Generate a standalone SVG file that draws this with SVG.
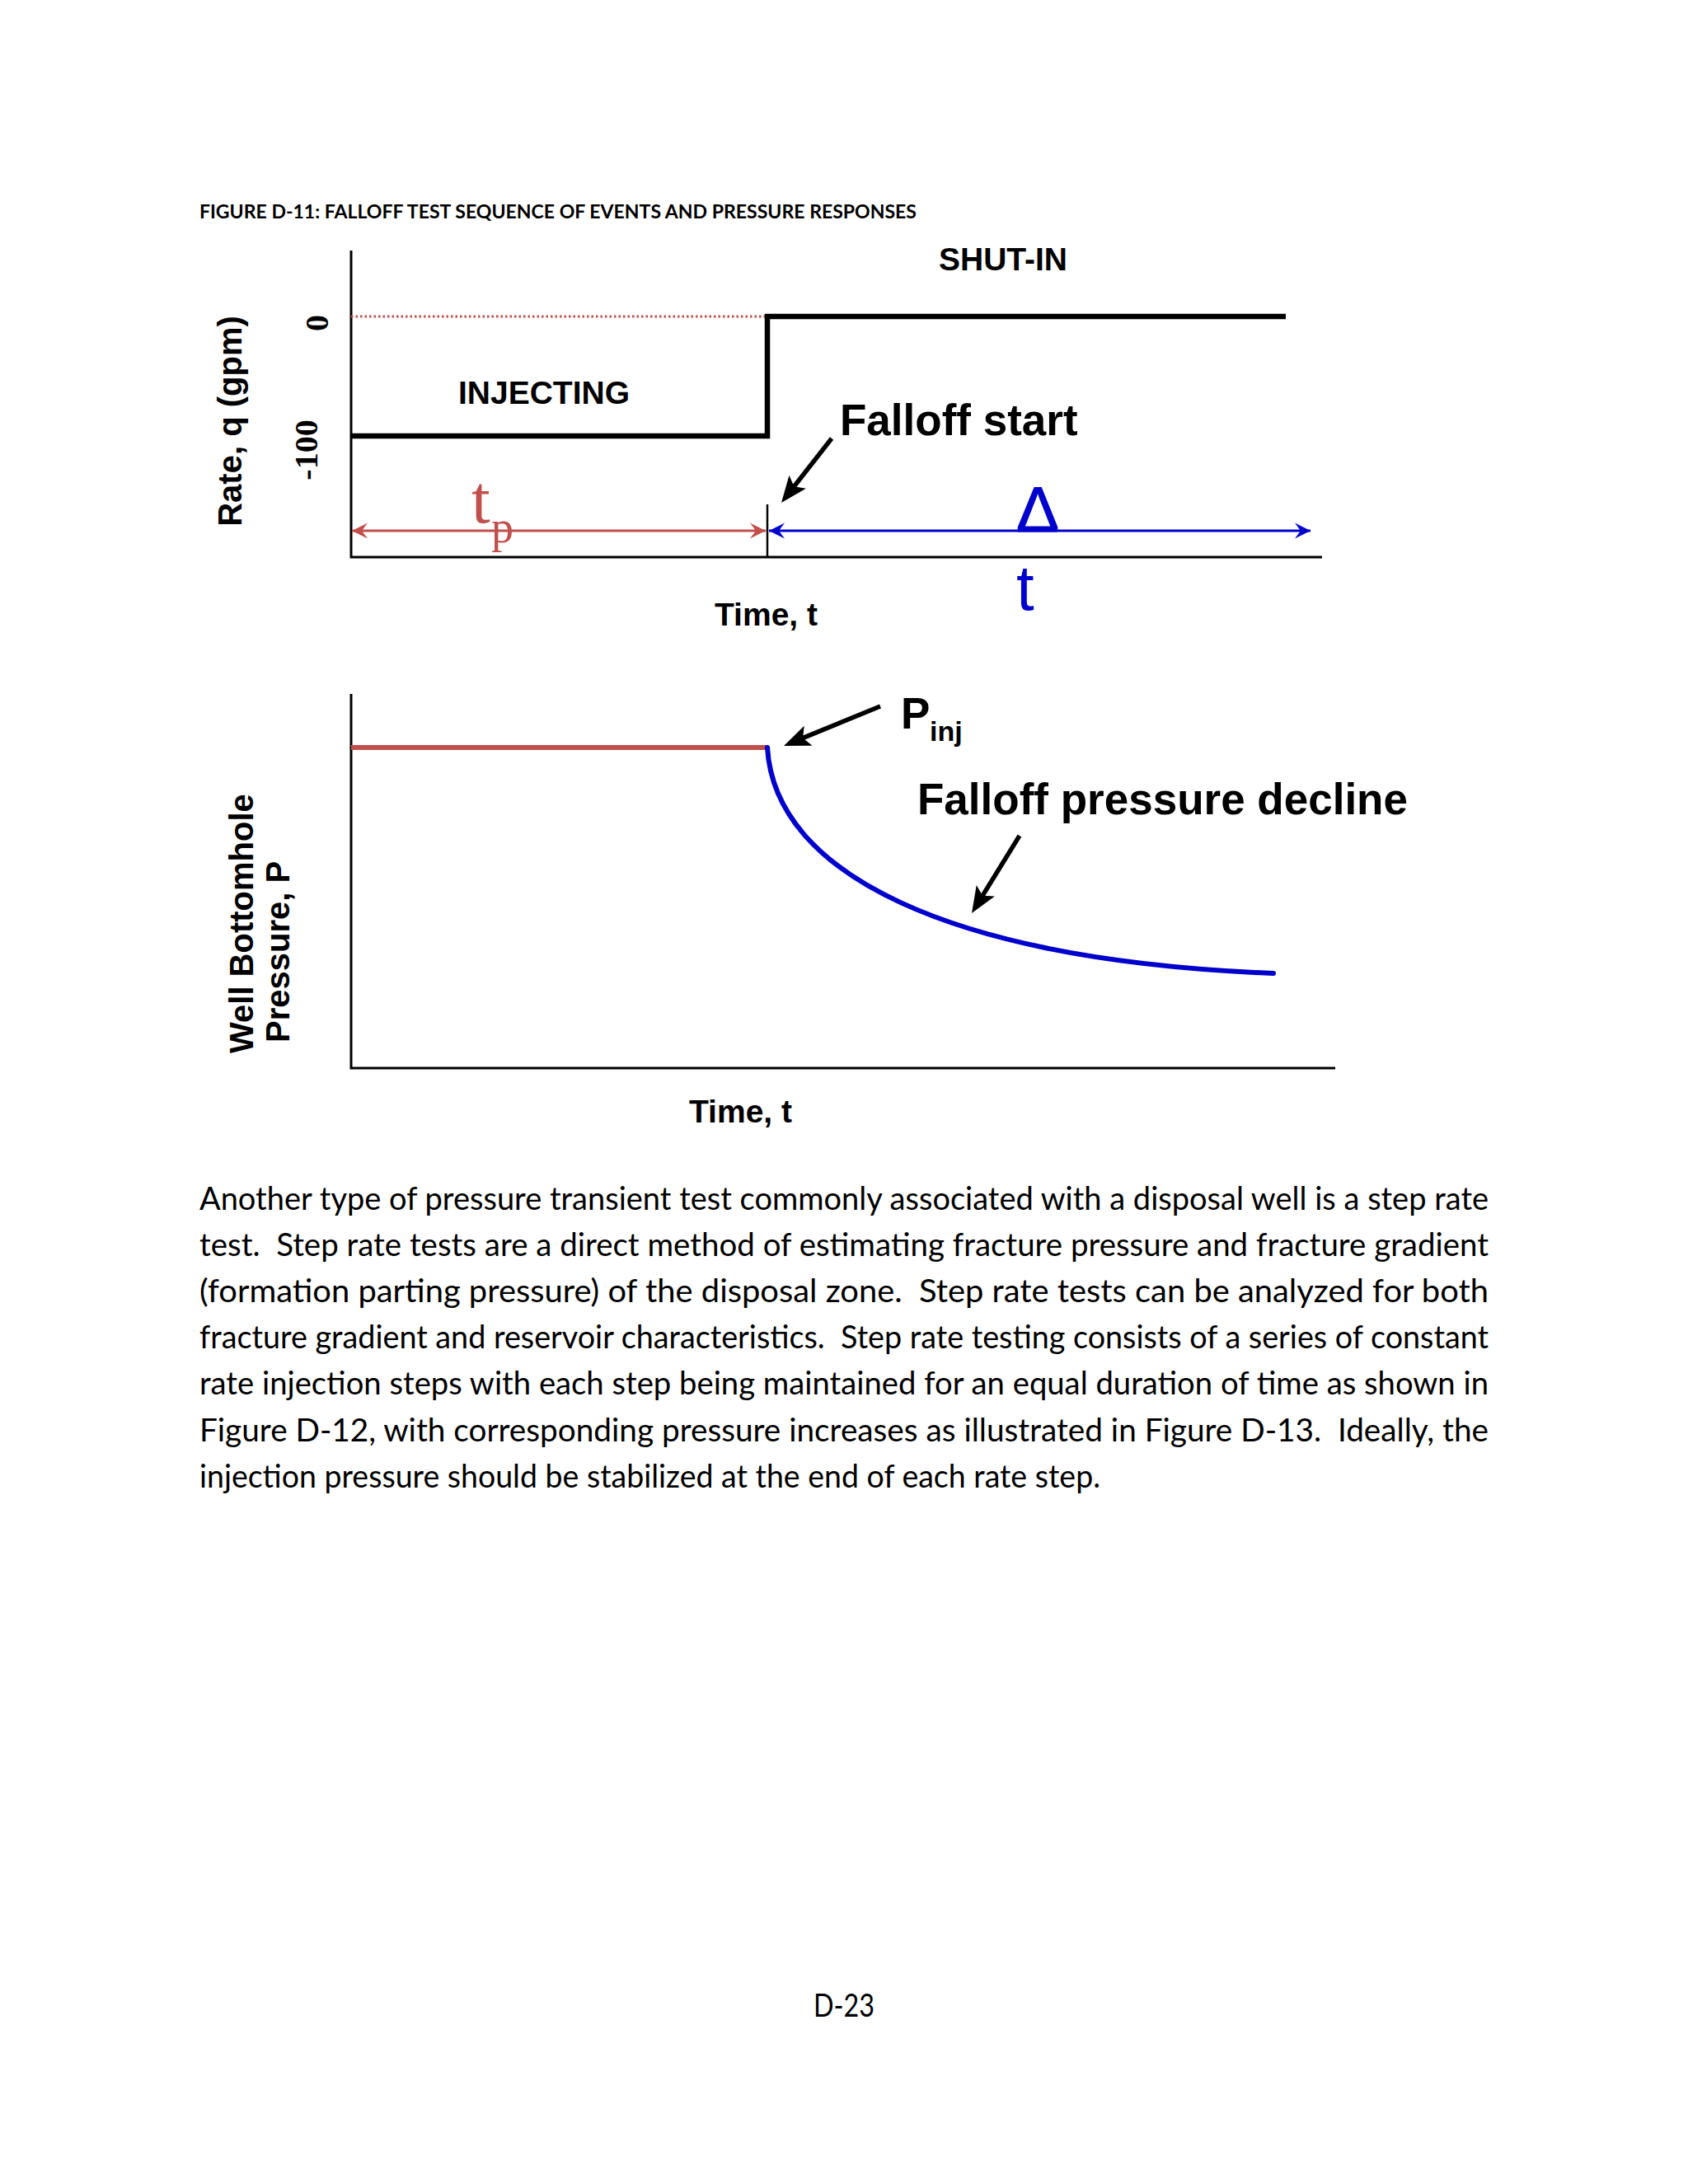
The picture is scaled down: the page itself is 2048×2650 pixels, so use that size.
<svg xmlns="http://www.w3.org/2000/svg" width="2048" height="2650" viewBox="0 0 2048 2650">
<defs>
<style>
.lbl{font-family:"Liberation Sans",Arial,sans-serif;font-weight:bold;fill:#000}
.body{font-family:Lato,"Open Sans",sans-serif;font-size:38px;fill:#000}
.ser{font-family:"Liberation Serif","Times New Roman",serif}
.axis{stroke:#000;stroke-width:3;fill:none}
.step{stroke:#000;stroke-width:6.5;fill:none;stroke-linejoin:miter}
.callout{stroke:#000;stroke-width:5.5;fill:none;marker-end:url(#stealth)}
</style>
<marker id="stealth" markerUnits="userSpaceOnUse" viewBox="-25 -20 50 40" markerWidth="50" markerHeight="40" refX="0" refY="0" orient="auto" overflow="visible">
<path d="M20,0 L-12,-13 L-5,0 L-12,13 Z" fill="#000"/>
</marker>
<marker id="chevRed" markerUnits="userSpaceOnUse" viewBox="-25 -15 30 30" markerWidth="30" markerHeight="30" refX="0" refY="0" orient="auto-start-reverse" overflow="visible">
<path d="M0,0 L-19,-9.5 L-12,0 L-19,9.5 Z" fill="#C0504D"/>
</marker>
<marker id="chevBlue" markerUnits="userSpaceOnUse" viewBox="-25 -15 30 30" markerWidth="30" markerHeight="30" refX="0" refY="0" orient="auto-start-reverse" overflow="visible">
<path d="M0,0 L-19,-9.5 L-12,0 L-19,9.5 Z" fill="#0000CD"/>
</marker>
</defs>
<rect width="2048" height="2650" fill="#fff"/>

<g id="title">
<text x="242" y="265" font-family="Lato,'Open Sans',sans-serif" font-weight="bold" font-size="23" textLength="870" lengthAdjust="spacingAndGlyphs">FIGURE D-11: FALLOFF TEST SEQUENCE OF EVENTS AND PRESSURE RESPONSES</text>
</g>

<g id="rate-chart">
<path class="axis" d="M426,304 V676 H1604"/>
<line x1="426" y1="384" x2="931" y2="384" stroke="#C0504D" stroke-width="3" stroke-dasharray="2.5 3"/>
<path class="step" d="M426,529 H931 V384 H1560"/>
<line x1="931" y1="612" x2="931" y2="676" stroke="#000" stroke-width="2.5"/>
<text class="lbl" font-size="39" x="556" y="490">INJECTING</text>
<text class="lbl" font-size="39" x="1139" y="328">SHUT-IN</text>
<text class="lbl" font-size="53" x="1019" y="528">Falloff start</text>
<text class="lbl" font-size="39" x="867" y="759">Time, t</text>
<text class="lbl" font-size="40" text-anchor="middle" transform="translate(293,511) rotate(-90)">Rate, q (gpm)</text>
<text class="ser" font-weight="bold" font-size="40" text-anchor="middle" transform="translate(398,392) rotate(-90)">0</text>
<text class="ser" font-weight="bold" font-size="40" text-anchor="middle" transform="translate(385,546) rotate(-90)">-100</text>
<text class="ser" font-size="82" fill="#C0504D" x="572" y="634">t</text>
<text class="ser" font-size="54" fill="#C0504D" x="596" y="658">p</text>
<text font-family="'Liberation Sans',Arial,sans-serif" font-size="78" fill="#0000CD" stroke="#0000CD" stroke-width="1.2" x="1233" y="645">Δ</text>
<text font-family="'Liberation Sans',Arial,sans-serif" font-size="78" fill="#0000CD" x="1233" y="740">t</text>
</g>

<g id="pressure-chart">
<path class="axis" d="M426,842 V1296 H1620"/>
<line x1="426" y1="907" x2="931" y2="907" stroke="#C0504D" stroke-width="6"/>
<path d="M931,907 C940,1060 1150,1165 1545,1181" fill="none" stroke="#0000CD" stroke-width="6" stroke-linecap="round"/>
<text class="lbl" font-size="53" x="1093" y="884">P</text>
<text class="lbl" font-size="34" x="1128" y="899">inj</text>
<text class="lbl" font-size="53" x="1113" y="988">Falloff pressure decline</text>
<text class="lbl" font-size="39" x="836" y="1362">Time, t</text>
<text class="lbl" font-size="40" transform="translate(307,1278) rotate(-90)">Well Bottomhole</text>
<text class="lbl" font-size="40" transform="translate(351,1265) rotate(-90)">Pressure, P</text>
</g>

<g id="connectors">
<line x1="427" y1="644" x2="929" y2="644" stroke="#C0504D" stroke-width="3" marker-start="url(#chevRed)" marker-end="url(#chevRed)"/>
<line x1="933" y1="644" x2="1590" y2="644" stroke="#0000CD" stroke-width="3" marker-start="url(#chevBlue)" marker-end="url(#chevBlue)"/>
<line class="callout" x1="1009" y1="532" x2="960.3" y2="594.2"/>
<line class="callout" x1="1068" y1="857" x2="969.5" y2="897.4"/>
<line class="callout" x1="1237" y1="1014" x2="1189.5" y2="1091"/>
</g>

<g id="body-text">
<text class="body" xml:space="preserve" x="242" y="1468" textLength="1564" lengthAdjust="spacingAndGlyphs">Another type of pressure transient test commonly associated with a disposal well is a step rate</text>
<text class="body" xml:space="preserve" x="242" y="1524" textLength="1564" lengthAdjust="spacingAndGlyphs">test.  Step rate tests are a direct method of estimating fracture pressure and fracture gradient</text>
<text class="body" xml:space="preserve" x="242" y="1580" textLength="1564" lengthAdjust="spacingAndGlyphs">(formation parting pressure) of the disposal zone.  Step rate tests can be analyzed for both</text>
<text class="body" xml:space="preserve" x="242" y="1636" textLength="1564" lengthAdjust="spacingAndGlyphs">fracture gradient and reservoir characteristics.  Step rate testing consists of a series of constant</text>
<text class="body" xml:space="preserve" x="242" y="1692" textLength="1564" lengthAdjust="spacingAndGlyphs">rate injection steps with each step being maintained for an equal duration of time as shown in</text>
<text class="body" xml:space="preserve" x="242" y="1749" textLength="1564" lengthAdjust="spacingAndGlyphs">Figure D-12, with corresponding pressure increases as illustrated in Figure D-13.  Ideally, the</text>
<text class="body" xml:space="preserve" x="242" y="1805" textLength="1093" lengthAdjust="spacingAndGlyphs">injection pressure should be stabilized at the end of each rate step.</text>
</g>

<g id="page-number">
<text class="body" x="987" y="2447" textLength="74" lengthAdjust="spacingAndGlyphs">D-23</text>
</g>
</svg>
